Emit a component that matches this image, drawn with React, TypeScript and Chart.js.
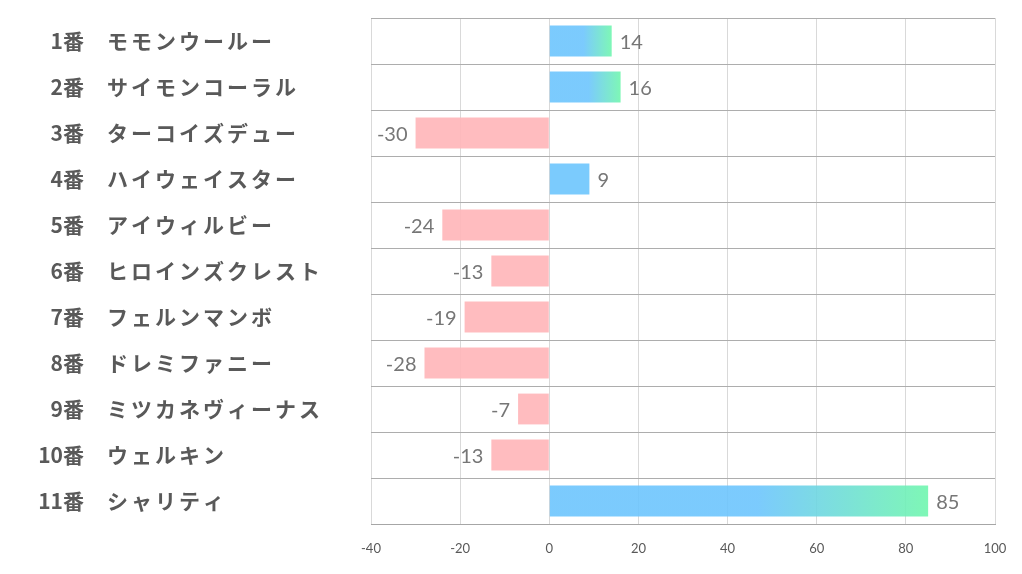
import React, { useEffect, useRef } from "react";
import { Chart, registerables } from "chart.js";

Chart.register(...registerables);

const horseNumbers = ["1番", "2番", "3番", "4番", "5番", "6番", "7番", "8番", "9番", "10番", "11番"];
const horseNames = [
  "モモンウールー",
  "サイモンコーラル",
  "ターコイズデュー",
  "ハイウェイスター",
  "アイウィルビー",
  "ヒロインズクレスト",
  "フェルンマンボ",
  "ドレミファニー",
  "ミツカネヴィーナス",
  "ウェルキン",
  "シャリティ",
];
const values = [14, 16, -30, 9, -24, -13, -19, -28, -7, -13, 85];
const gradientBars = [true, true, false, false, false, false, false, false, false, false, true];
const xTicks = [-40, -20, 0, 20, 40, 60, 80, 100];

const BLUE = "rgba(109,197,253,0.9)";
const GREEN = "rgba(112,246,174,0.9)";
const PINK = "rgba(255,181,184,0.9)";

const labelPlugin = {
  id: "customLabels",
  afterDatasetsDraw(chart: any) {
    const ctx = chart.ctx;
    const ys = chart.scales.y;
    const xs = chart.scales.x;
    ctx.save();
    ctx.fillStyle = "#595959";
    ctx.textBaseline = "middle";
    horseNames.forEach((name, i) => {
      const y = ys.getPixelForValue(i);
      ctx.font = "bold 21px 'Noto Sans CJK JP'";
      ctx.textAlign = "right";
      (ctx as any).letterSpacing = "0px";
      ctx.fillText(horseNumbers[i], 84, y);
      ctx.textAlign = "left";
      (ctx as any).letterSpacing = "3px";
      ctx.fillText(name, 107, y);
    });
    (ctx as any).letterSpacing = "0px";
    ctx.font = "20px Lato";
    ctx.fillStyle = "#767676";
    values.forEach((v, i) => {
      const y = ys.getPixelForValue(i) + 2;
      const x = xs.getPixelForValue(v);
      if (v >= 0) {
        ctx.textAlign = "left";
        ctx.fillText(String(v), x + 8, y);
      } else {
        ctx.textAlign = "right";
        ctx.fillText(String(v), x - 8, y);
      }
    });
    ctx.restore();
  },
};

export default function App() {
  const ref = useRef<HTMLCanvasElement>(null);
  useEffect(() => {
    document.body.style.margin = "0";
    const canvas = ref.current!;
    const chart = new Chart(canvas, {
      type: "bar",
      data: {
        labels: horseNames,
        datasets: [
          {
            data: values,
            backgroundColor: (c: any) => {
              const v = c.raw as number;
              if (v < 0) return PINK;
              const i = c.dataIndex;
              if (!gradientBars[i]) return BLUE;
              const chart = c.chart;
              if (!chart.chartArea) return BLUE;
              const xs = chart.scales.x;
              const x0 = xs.getPixelForValue(0);
              const x1 = xs.getPixelForValue(v);
              const g = chart.ctx.createLinearGradient(x0, 0, x1, 0);
              g.addColorStop(0, BLUE);
              g.addColorStop(0.55, BLUE);
              g.addColorStop(1, GREEN);
              return g;
            },
            borderWidth: 0,
            barPercentage: 0.67,
            categoryPercentage: 1,
          },
        ],
      },
      options: {
        indexAxis: "y",
        animation: false,
        responsive: false,
        maintainAspectRatio: false,
        layout: { padding: { top: 18, right: 27, left: 0, bottom: 0 } },
        plugins: { legend: { display: false }, tooltip: { enabled: false } },
        scales: {
          x: {
            type: "linear",
            min: -40,
            max: 100,
            afterBuildTicks: (s: any) => {
              s.ticks = xTicks.map((v) => ({ value: v }));
            },
            afterFit: (s: any) => {
              s.height = 50;
              s.paddingRight = 0;
              s.paddingLeft = 0;
            },
            grid: { color: "#d9d9d9", drawTicks: false, lineWidth: 1 },
            border: { display: true, color: "#a6a6a6", width: 1 },
            ticks: {
              color: "#595959",
              font: { family: "Lato", size: 13 },
              padding: 17,
              maxRotation: 0,
            },
          },
          y: {
            type: "category",
            offset: true,
            afterFit: (s: any) => {
              s.width = 371;
            },
            grid: { offset: true, color: "#adadad", drawTicks: false, lineWidth: 1 },
            border: { display: false },
            ticks: { display: false },
          },
        },
      },
      plugins: [labelPlugin],
    } as any);
    return () => chart.destroy();
  }, []);
  return <canvas ref={ref} width={1022} height={574} style={{ display: "block" }} />;
}
